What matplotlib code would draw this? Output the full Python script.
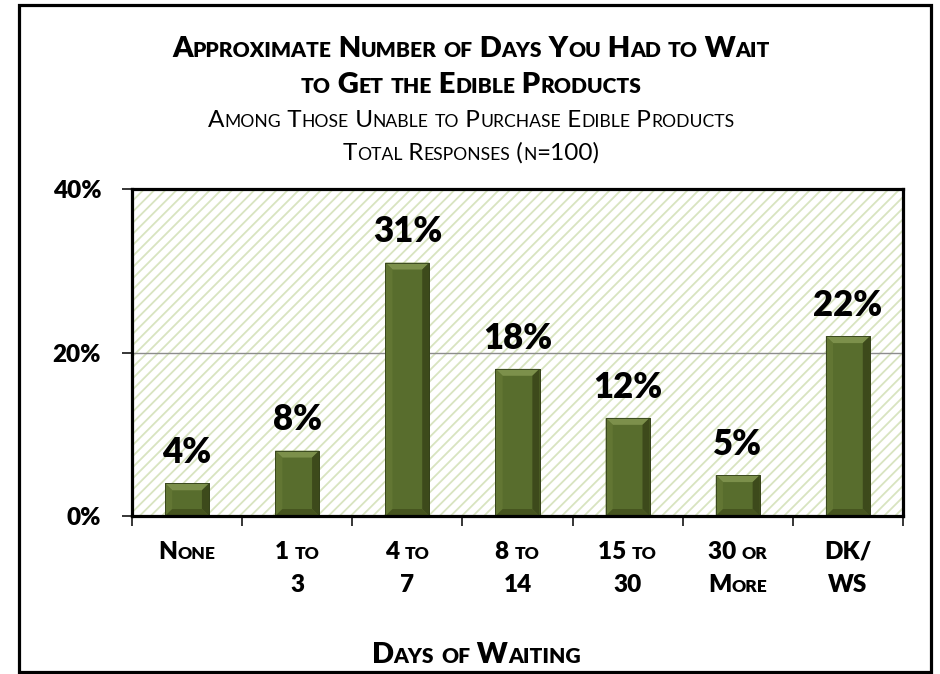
import numpy as np
import matplotlib
matplotlib.use('Agg')
import matplotlib.pyplot as plt
from matplotlib.patches import Rectangle, Polygon
from matplotlib.transforms import IdentityTransform

# dados
categorias = ['None', '1 to\n3', '4 to\n7', '8 to\n14', '15 to\n30', '30 or\nMore', 'DK/\nWS']
valores = [4, 8, 31, 18, 12, 5, 22]
y_ticks = [0, 20, 40]
y_tick_labels = ['0%', '20%', '40%']

titulo = ['Approximate Number of Days You Had to Wait', 'to Get the Edible Products']
subtitulo = ['Among Those Unable to Purchase Edible Products', 'Total Responses (n=100)']
xlabel = 'Days of Waiting'

FONTE = ['Lato', 'DejaVu Sans']
NEGRITO = 'heavy'
W, H = 940, 674

plt.rcParams['font.family'] = FONTE
plt.rcParams['hatch.linewidth'] = 1.3

fig = plt.figure(figsize=(W / 100, H / 100), dpi=100)
ax = fig.add_axes([132 / W, 1 - 516 / H, (903 - 132) / W, (516 - 189) / H])
renderer = fig.canvas.get_renderer()


def largura(t, fs, peso):
    # mede largura em pixels usando barras como sentinela (conta espacos)
    a = fig.text(0, 0, '|' + t + '|', fontsize=fs, weight=peso, transform=IdentityTransform())
    b = fig.text(0, 0, '||', fontsize=fs, weight=peso, transform=IdentityTransform())
    w = a.get_window_extent(renderer).width - b.get_window_extent(renderer).width
    a.remove()
    b.remove()
    return w


def versalete(xc, y_topo, s, fs, peso=NEGRITO, fator=0.72):
    # texto em small caps centralizado, posicao em pixels (y medido do topo)
    partes = []
    for ch in s:
        if ch.islower():
            t, tam = ch.upper(), fs * fator
        else:
            t, tam = ch, fs
        if partes and partes[-1][1] == tam:
            partes[-1][0] += t
        else:
            partes.append([t, tam])
    larguras = [largura(t, tam, peso) for t, tam in partes]
    x = xc - sum(larguras) / 2
    for (t, tam), w in zip(partes, larguras):
        fig.text(x, H - y_topo, t, fontsize=tam, weight=peso, ha='left', va='baseline',
                 transform=IdentityTransform())
        x += w


# fundo hachurado da area do grafico
ax.set_xlim(-0.5, len(categorias) - 0.5)
ax.set_ylim(0, 40)
ax.add_patch(Rectangle((0, 0), 1, 1, transform=ax.transAxes, facecolor='white',
                       edgecolor='#d8e4c0', linewidth=0, hatch='///', zorder=0))
ax.axhline(20, color='#8c8c8c', linewidth=1, zorder=1)

# barras com efeito de chanfro
x = np.arange(len(categorias))
barras = ax.bar(x, valores, width=0.4, color='#586d2d', edgecolor='#3a4718',
                linewidth=0.6, zorder=3)
dx = 0.065
for b in barras:
    x0 = b.get_x()
    x1 = x0 + b.get_width()
    y1 = b.get_height()
    dy = min(0.85, y1 / 2)
    faces = [
        ([(x0, y1), (x1, y1), (x1 - dx, y1 - dy), (x0 + dx, y1 - dy)], '#7c904b'),
        ([(x0, 0), (x0, y1), (x0 + dx, y1 - dy), (x0 + dx, dy)], '#627633'),
        ([(x1, 0), (x1, y1), (x1 - dx, y1 - dy), (x1 - dx, dy)], '#3d4a1b'),
        ([(x0, 0), (x1, 0), (x1 - dx, dy), (x0 + dx, dy)], '#46541f'),
    ]
    for pts, cor in faces:
        ax.add_patch(Polygon(pts, closed=True, facecolor=cor, edgecolor='none', zorder=4))
    ax.add_patch(Rectangle((x0, 0), x1 - x0, y1, facecolor='none', edgecolor='#33401a',
                           linewidth=0.6, zorder=5))
    ax.annotate(f'{y1:.0f}%', (b.get_x() + b.get_width() / 2, y1), xytext=(0, 14.5),
                textcoords='offset points', ha='center', va='baseline',
                fontsize=25, weight=NEGRITO, zorder=6)

# eixos
for s in ax.spines.values():
    s.set_linewidth(2.3)
    s.set_color('black')
    s.set_zorder(7)
ax.set_yticks(y_ticks)
ax.set_yticklabels(y_tick_labels, fontsize=17.5, weight=NEGRITO)
ax.set_xticks(np.arange(-0.5, len(categorias), 1))
ax.set_xticklabels([])
ax.tick_params(axis='both', direction='out', length=7.2, width=1.1, color='black')
ax.tick_params(axis='y', pad=15)

# rotulos das categorias
for i, cat in enumerate(categorias):
    xc = ax.transData.transform((i, 0))[0]
    for j, linha in enumerate(cat.split('\n')):
        versalete(xc, 559 + 33 * j, linha, 17.5)

# titulos
versalete(471, 57, titulo[0], 21)
versalete(471, 93, titulo[1], 21)
versalete(471, 127, subtitulo[0], 17.5, peso='normal')
versalete(471, 160, subtitulo[1], 17.5, peso='normal')
versalete(476, 663, xlabel, 21)

# moldura externa
fig.add_artist(Rectangle((19, H - 672), 912, 667, transform=IdentityTransform(),
                         facecolor='none', edgecolor='black', linewidth=2.3))

fig.savefig('out.png', dpi=100)
